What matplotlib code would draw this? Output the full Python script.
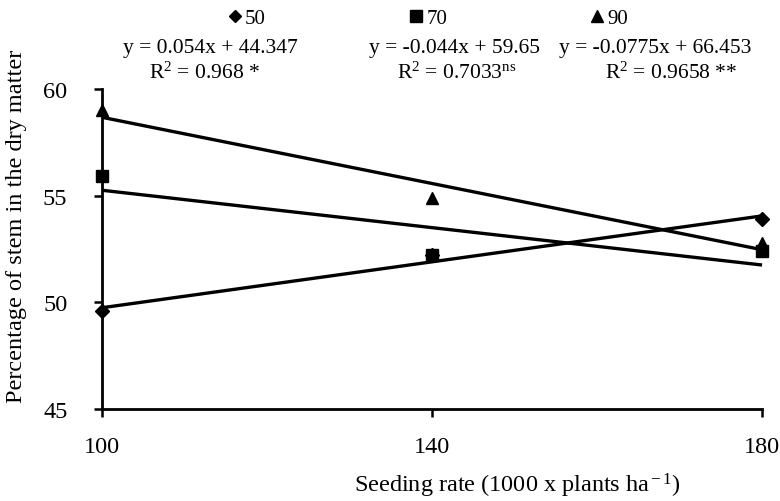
import numpy as np
import matplotlib
matplotlib.use("Agg")
import matplotlib.pyplot as plt

plt.rcParams['font.family'] = ['Liberation Serif', 'DejaVu Serif']
plt.rcParams['mathtext.fontset'] = 'custom'
plt.rcParams['mathtext.rm'] = 'Liberation Serif'
plt.rcParams['mathtext.it'] = 'Liberation Serif:italic'

# seeding rate (1000 x plants/ha)
rate = [100, 140, 180]
# percentage of stem in dry matter for each group
s50 = [49.6, 52.2, 53.9]
s70 = [55.9, 52.2, 52.4]
s90 = [59.0, 54.9, 52.8]
groups = ['50', '70', '90']
markers = ['D', 's', '^']
msizes = [7, 9, 9]
equations = ['y = 0.054x + 44.347', 'y = -0.044x + 59.65', 'y = -0.0775x + 66.453']
r2_text = [r'R$^2$ = 0.968 *', r'R$^2$ = 0.7033$^{\rm ns}$', r'R$^2$ = 0.9658 **']

fig = plt.figure(figsize=(7.8, 5.02), dpi=100)
ax = fig.add_axes([0.131, 0.183, 0.846, 0.638])

x = np.array(rate)
handles = []
for vals, m, ms, g in zip([s50, s70, s90], markers, msizes, groups):
    ax.plot(rate, vals, linestyle='none', marker=m, markersize=ms, color='black', clip_on=False, zorder=3)
    # linear trend line
    k, b = np.polyfit(x, vals, 1)
    ax.plot(x, k * x + b, color='black', linewidth=2.4, solid_capstyle='butt', clip_on=False)
    h, = ax.plot([], [], linestyle='none', marker=m, markersize=ms - 1, color='black', label=g)
    handles.append(h)

ax.set_xlim(100, 180)
ax.set_ylim(45, 60)
ax.set_xticks([100, 140, 180])
ax.set_yticks([45, 50, 55, 60])
ax.spines['top'].set_visible(False)
ax.spines['right'].set_visible(False)
ax.spines['left'].set_linewidth(2)
ax.spines['bottom'].set_linewidth(2)
ax.tick_params(axis='both', labelsize=17.5, width=1.8, length=6, direction='out')
ax.tick_params(axis='x', pad=13)
ax.tick_params(axis='y', pad=19)

fig.text(17 / 780, 1 - 226 / 502, 'Percentage of stem in the dry matter', fontsize=17.5,
         rotation=90, ha='center', va='center')
fig.text(517 / 780, 1 - 486 / 502, r'Seeding rate (1000 x plants ha$^{\rm -1}$)', fontsize=17.5,
         ha='center', va='center')

fig.legend(handles=handles, loc='center', bbox_to_anchor=(0.548, 0.962), ncol=3, frameon=False,
           fontsize=15, handletextpad=0.1, columnspacing=6.8, handlelength=0.8)

eq_x = [0.27, 0.583, 0.84]
r2_x = [0.262, 0.585, 0.86]
for ex, rx, e, r in zip(eq_x, r2_x, equations, r2_text):
    fig.text(ex, 1 - 48 / 502, e, ha='center', va='center', fontsize=15.5)
    fig.text(rx, 1 - 73 / 502, r, ha='center', va='center', fontsize=15.5)

fig.savefig('out.png', dpi=100)
